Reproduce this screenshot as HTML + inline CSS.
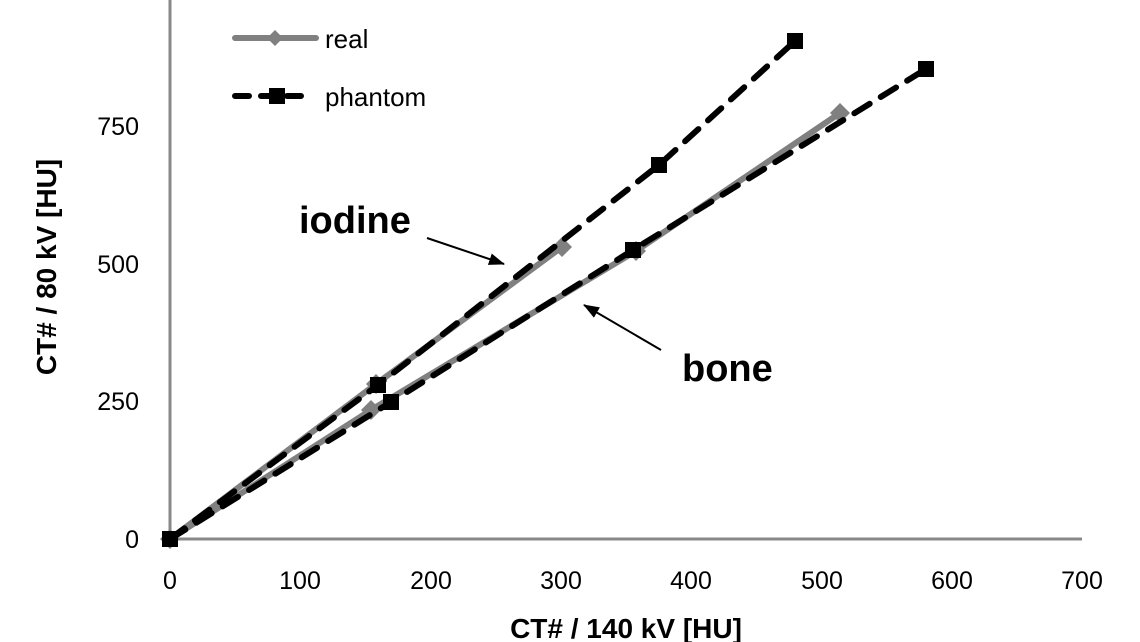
<!DOCTYPE html>
<html><head><style>body{margin:0;background:#fff}svg{display:block}text{font-family:"Liberation Sans",sans-serif}</style></head>
<body>
<svg width="1140" height="642" xmlns="http://www.w3.org/2000/svg">
<line x1="170" y1="0" x2="170" y2="539" stroke="#888" stroke-width="3"/>
<line x1="170" y1="539" x2="1082" y2="539" stroke="#888" stroke-width="3"/>
<g font-size="25" fill="#000" text-anchor="middle">
<text x="170" y="589">0</text><text x="300" y="589">100</text><text x="431" y="589">200</text><text x="561" y="589">300</text><text x="691" y="589">400</text><text x="822" y="589">500</text><text x="952" y="589">600</text><text x="1082" y="589">700</text>
</g>
<g font-size="25" fill="#000" text-anchor="end">
<text x="139" y="548">0</text><text x="139" y="410">250</text><text x="139" y="273">500</text><text x="139" y="135">750</text>
</g>
<text x="626" y="638" font-size="28" font-weight="bold" text-anchor="middle">CT# / 140 kV [HU]</text>
<text transform="translate(56,267) rotate(-90)" font-size="28" font-weight="bold" text-anchor="middle">CT# / 80 kV [HU]</text>
<g stroke="#808080" stroke-width="6" fill="none" stroke-linejoin="round">
<polyline points="170,539 376,384 562,247"/>
<polyline points="170,539 371,410 636,251 840,113"/>
</g>
<g fill="#808080">
<path d="M170,529 l10,10 -10,10 -10,-10z"/><path d="M376,374 l10,10 -10,10 -10,-10z"/><path d="M562,237 l10,10 -10,10 -10,-10z"/>
<path d="M371,400 l10,10 -10,10 -10,-10z"/><path d="M636,241 l10,10 -10,10 -10,-10z"/><path d="M840,103 l10,10 -10,10 -10,-10z"/>
</g>
<g stroke="#000" stroke-width="6" fill="none" stroke-dasharray="18,13" stroke-linecap="round">
<polyline points="170,539 378,385 659,165 795,41"/>
<polyline points="170,539 391,402 633,250 926,69"/>
</g>
<g fill="#000">
<rect x="162" y="531" width="16" height="16"/><rect x="370" y="377" width="16" height="16"/><rect x="651" y="157" width="16" height="16"/><rect x="787" y="33" width="16" height="16"/>
<rect x="383" y="394" width="16" height="16"/><rect x="625" y="242" width="16" height="16"/><rect x="918" y="61" width="16" height="16"/>
</g>
<line x1="235" y1="38" x2="316" y2="38" stroke="#808080" stroke-width="6" stroke-linecap="round"/>
<path d="M275,30 l8,8 -8,8 -8,-8z" fill="#808080"/>
<text x="325" y="48" font-size="26">real</text>
<line x1="235" y1="96" x2="310" y2="96" stroke="#000" stroke-width="6" stroke-dasharray="14,12" stroke-linecap="round"/>
<rect x="269" y="88" width="16" height="16" fill="#000"/>
<text x="325" y="106" font-size="26">phantom</text>
<text x="299" y="233" font-size="38" font-weight="bold">iodine</text>
<text x="682" y="381" font-size="38" font-weight="bold">bone</text>
<defs><marker id="a" markerWidth="16" markerHeight="12" refX="15" refY="6" orient="auto" markerUnits="userSpaceOnUse" viewBox="0 0 16 12"><path d="M0,0 L16,6 L0,12z" fill="#000"/></marker></defs>
<line x1="427" y1="238" x2="504" y2="264" stroke="#000" stroke-width="2" marker-end="url(#a)"/>
<line x1="661" y1="350" x2="584" y2="305" stroke="#000" stroke-width="2" marker-end="url(#a)"/>
</svg>
</body></html>
